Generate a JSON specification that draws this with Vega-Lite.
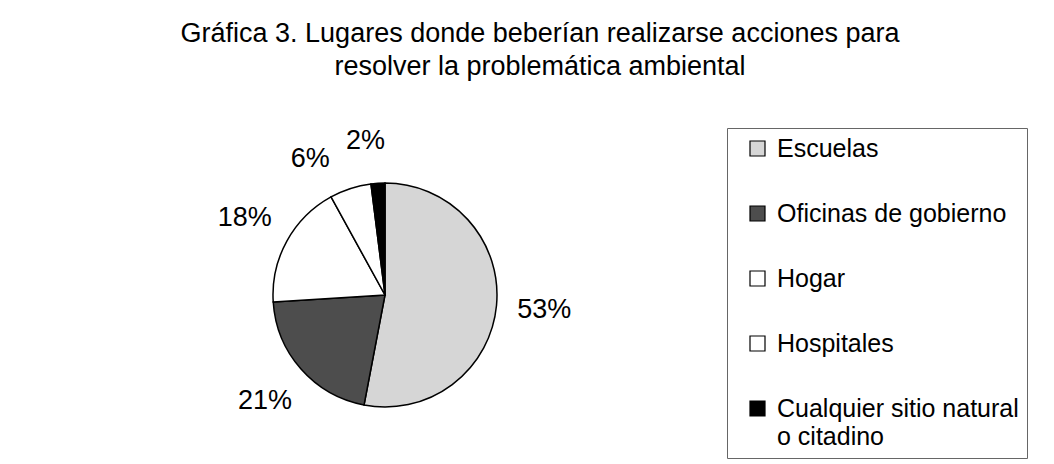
{
  "$schema": "https://vega.github.io/schema/vega-lite/v6.json",
  "autosize": "none",
  "width": 770,
  "height": 338,
  "padding": {"left": 0, "top": 126, "right": 284, "bottom": 0},
  "background": "white",
  "config": {"view": {"stroke": null}, "font": "Liberation Sans"},
  "title": {
    "text": ["Gráfica 3. Lugares donde beberían realizarse acciones para", "resolver la problemática ambiental"],
    "fontSize": 27,
    "fontWeight": "normal",
    "font": "Liberation Sans",
    "color": "black",
    "anchor": "middle",
    "dx": 155,
    "lineHeight": 33,
    "offset": 40
  },
  "data": {
    "values": [
      {"lugar": "Escuelas", "porcentaje": 0.53, "orden": 1},
      {"lugar": "Oficinas de gobierno", "porcentaje": 0.21, "orden": 2},
      {"lugar": "Hogar", "porcentaje": 0.18, "orden": 3},
      {"lugar": "Hospitales", "porcentaje": 0.06, "orden": 4},
      {"lugar": "Cualquier sitio natural o citadino", "porcentaje": 0.02, "orden": 5}
    ]
  },
  "transform": [
    {"stack": "porcentaje", "groupby": [], "sort": [{"field": "orden", "order": "ascending"}], "as": ["t0", "t1"]}
  ],
  "layer": [
    {
      "mark": {"type": "arc", "outerRadius": 112, "stroke": "black", "strokeWidth": 1.5},
      "encoding": {
        "theta": {"field": "porcentaje", "type": "quantitative", "stack": true, "scale": {"domain": [0, 1]}},
        "order": {"field": "orden", "type": "quantitative"},
        "color": {
          "field": "lugar",
          "type": "nominal",
          "sort": ["Escuelas", "Oficinas de gobierno", "Hogar", "Hospitales", "Cualquier sitio natural o citadino"],
          "scale": {
            "domain": ["Escuelas", "Oficinas de gobierno", "Hogar", "Hospitales", "Cualquier sitio natural o citadino"],
            "range": ["#d6d6d6", "#4d4d4d", "#ffffff", "#ffffff", "#000000"]
          },
          "legend": {
            "title": null,
            "orient": "none",
            "legendX": 727,
            "legendY": 2,
            "symbolType": "square",
            "symbolSize": 225,
            "symbolOffset": 10,
            "symbolStrokeColor": "black",
            "symbolStrokeWidth": 1.2,
            "labelFontSize": 25,
            "labelFont": "Liberation Sans",
            "labelColor": "black",
            "labelLimit": 400,
            "labelOffset": 7,
            "rowPadding": 39,
            "padding": 8,
            "strokeColor": "#666666",
            "labelExpr": "datum.label == 'Cualquier sitio natural o citadino' ? ['Cualquier sitio natural', 'o citadino'] : datum.label",
            "encode": {"labels": {"update": {"lineHeight": {"value": 28}}}}
          }
        }
      }
    },
    {
      "mark": {"type": "text", "radius": 160, "fontSize": 27, "font": "Liberation Sans", "color": "black"},
      "encoding": {
        "theta": {"field": "porcentaje", "type": "quantitative", "stack": true, "scale": {"domain": [0, 1]}},
        "order": {"field": "orden", "type": "quantitative"},
        "text": {
          "condition": {"test": "datum.orden <= 3", "field": "porcentaje", "type": "quantitative", "format": ".0%"},
          "value": ""
        },
        "detail": {"field": "lugar"}
      }
    },
    {
      "transform": [{"filter": "datum.orden >= 4"}],
      "mark": {"type": "text", "radius": 155, "fontSize": 27, "font": "Liberation Sans", "color": "black"},
      "encoding": {
        "theta": {"field": "t0", "type": "quantitative", "stack": null, "scale": {"domain": [0, 1]}},
        "text": {"field": "porcentaje", "type": "quantitative", "format": ".0%"},
        "detail": {"field": "lugar"}
      }
    }
  ]
}
